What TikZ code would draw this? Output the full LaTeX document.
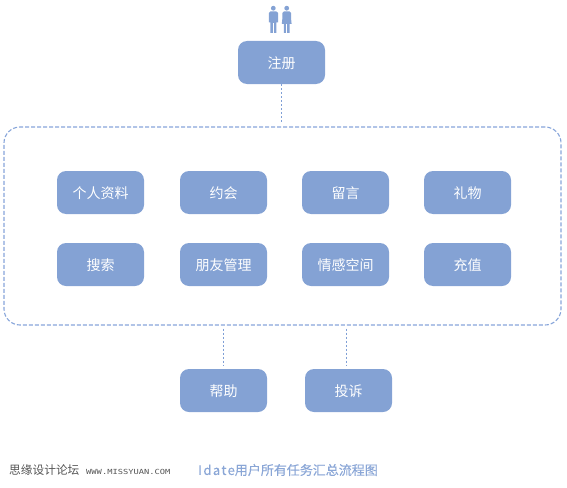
\documentclass[tikz,border=0pt]{standalone}
\usepackage{fontspec}
\usepackage{graphicx}
\setmainfont{Noto Sans CJK SC}
\newfontfamily\markfont{DejaVu Sans Mono}
\newfontfamily\titlefont[FakeBold=0.25]{Noto Sans CJK SC}
\definecolor{boxblue}{HTML}{84A2D4}
\definecolor{linkblue}{HTML}{7F9FD6}
\definecolor{panelblue}{HTML}{87A5DA}
\definecolor{titleblue}{HTML}{8AA6D6}
\definecolor{figblue}{HTML}{84A2D4}
\definecolor{markgray}{HTML}{555555}
\tikzset{
  taskbox/.style={draw=none,fill=boxblue,rounded corners=9pt,minimum width=87pt,minimum height=43pt,inner sep=0pt,text=white,text depth=0pt,font=\fontsize{14}{14}\selectfont},
  panelbox/.style={draw=panelblue,line width=1.1pt,dash pattern=on 4pt off 2pt,rounded corners=16pt,minimum width=557pt,minimum height=198pt,inner sep=0pt},
  linkline/.style={draw=linkblue,line width=1.2pt,dash pattern=on 2pt off 2pt},
  figure part/.style={fill=figblue,draw=none}
}
\begin{document}
\begin{tikzpicture}[x=1pt,y=-1pt]
\useasboundingbox (0,0) rectangle (567,487);
\node[panelbox] (panel) at (282.5,226) {};
\node[taskbox] (reg) at (281.5,62.5) {\raisebox{-1pt}{注册}};
\node[taskbox] (a1) at (100.5,192.5) {\raisebox{-1pt}{个人资料}};
\node[taskbox] (a2) at (223.5,192.5) {\raisebox{-1pt}{约会}};
\node[taskbox] (a3) at (345.5,192.5) {\raisebox{-1pt}{留言}};
\node[taskbox] (a4) at (467.5,192.5) {\raisebox{-1pt}{礼物}};
\node[taskbox] (b1) at (100.5,264.5) {\raisebox{-1pt}{搜索}};
\node[taskbox] (b2) at (223.5,264.5) {\raisebox{-1pt}{朋友管理}};
\node[taskbox] (b3) at (345.5,264.5) {\raisebox{-1pt}{情感空间}};
\node[taskbox] (b4) at (467.5,264.5) {\raisebox{-1pt}{充值}};
\node[taskbox] (help) at (223.5,390.5) {\raisebox{-1pt}{帮助}};
\node[taskbox] (complain) at (348.5,390.5) {\raisebox{-1pt}{投诉}};
\coordinate (cx) at (346.5,369);
\draw[linkline,shorten >=3pt] (reg.south) -- (reg.south |- panel.north);
\draw[linkline,shorten <=3pt,shorten >=3pt] (help.north |- panel.south) -- (help.north);
\draw[linkline,shorten <=3pt,shorten >=3pt] (cx |- panel.south) -- (cx);
% male figure
\fill[figure part] (273.3,8.2) circle (2.4);
\fill[figure part] (270.5,11.3) -- (276.1,11.3) -- (278.2,13) -- (278.2,22.5) -- (276.4,22.5) -- (276.4,33) -- (270.3,33) -- (270.3,22.5) -- (268.8,22.5) -- (268.8,13) -- cycle;
\draw[white,line width=0.5pt] (273.3,23) -- (273.3,33);
% female figure
\fill[figure part] (286.7,8.2) circle (2.4);
\fill[figure part] (284,11.3) -- (289.4,11.3) -- (291,13) -- (291,18) -- (291.6,24) -- (289.6,24) -- (289.6,33) -- (283.8,33) -- (283.8,24) -- (281.8,24) -- (282.4,18) -- (282.4,13) -- cycle;
\draw[white,line width=0.5pt] (286.7,24) -- (286.7,33);
% footer
\node[anchor=west,inner sep=0pt,text=markgray,font=\fontsize{11.7}{12}\selectfont] (forum) at (9,470) {思缘设计论坛};
\node[anchor=west,inner sep=0pt,text=markgray] (site) at (86,471.5) {\scalebox{1.25}[1]{\markfont\fontsize{7}{8}\selectfont WWW.MISSYUAN.COM}};
\node[anchor=west,inner sep=0pt,text=titleblue,font=\titlefont\fontsize{13}{13}\selectfont] (title) at (198,470) {{\addfontfeature{LetterSpace=11}Idate}用户所有任务汇总流程图};
\end{tikzpicture}
\end{document}
